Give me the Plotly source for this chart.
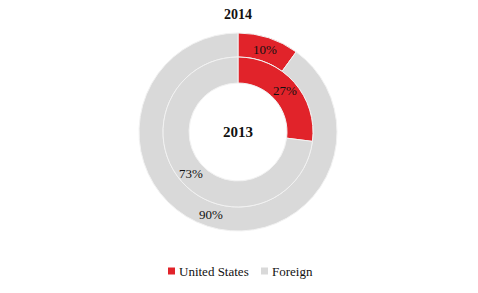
import math
import plotly.graph_objects as go

labels = ["United States", "Foreign"]
values_2014 = [10, 90]
values_2013 = [27, 73]
colors = ["#E1232A", "#D9D9D9"]

W, H = 478, 293
cx, cy = 238, 132
r_outer, r_mid, r_inner = 99, 75, 49

def dom(r):
    return dict(x=[(cx - r) / W, (cx + r) / W], y=[1 - (cy + r) / H, 1 - (cy - r) / H])

tfont = dict(family="Liberation Serif", size=13, color="#111111")

fig = go.Figure()
fig.add_trace(go.Pie(
    labels=labels, values=values_2014, name="2014",
    domain=dom(r_outer), hole=r_mid / r_outer,
    sort=False, direction="clockwise", rotation=0,
    marker=dict(colors=colors, line=dict(color="#F2F2F2", width=1)),
    textinfo="none", hoverinfo="label+percent", showlegend=False,
))
fig.add_trace(go.Pie(
    labels=labels, values=values_2013, name="2013",
    domain=dom(r_mid), hole=r_inner / r_mid,
    sort=False, direction="clockwise", rotation=0,
    marker=dict(colors=colors, line=dict(color="#F2F2F2", width=1)),
    textinfo="none", hoverinfo="label+percent", showlegend=False,
))

annotations = [
    dict(text="<b>2014</b>", x=cx / W, y=1 - 15 / H, xref="paper", yref="paper",
         xanchor="center", yanchor="middle",
         showarrow=False, font=dict(family="Liberation Serif", size=14, color="#111111")),
    dict(text="<b>2013</b>", x=cx / W, y=1 - cy / H, xref="paper", yref="paper",
         xanchor="center", yanchor="middle",
         showarrow=False, font=dict(family="Liberation Serif", size=15, color="#111111")),
]

# percentage labels placed at the mid-angle of each slice, mid-radius of each ring
for vals, r0, r1 in [(values_2014, r_mid, r_outer), (values_2013, r_inner, r_mid)]:
    total = sum(vals)
    cum = 0
    rm = (r0 + r1) / 2
    for v in vals:
        mid = (cum + v / 2) / total * 2 * math.pi
        cum += v
        px = cx + rm * math.sin(mid)
        py = cy - rm * math.cos(mid)
        annotations.append(dict(text=f"{round(100 * v / total)}%", x=px / W, y=1 - py / H,
                                xref="paper", yref="paper", xanchor="center", yanchor="middle",
                                showarrow=False, font=tfont))

# custom legend
shapes = []
leg_y = 271
leg_items = [(168, 177), (261, 270)]
for (sx, tx), lab, col in zip(leg_items, labels, colors):
    shapes.append(dict(type="rect", xref="paper", yref="paper",
                       x0=sx / W, x1=(sx + 7) / W, y0=1 - (leg_y + 3.5) / H, y1=1 - (leg_y - 3.5) / H,
                       fillcolor=col, line=dict(width=0)))
    annotations.append(dict(text=lab, x=tx / W, y=1 - leg_y / H, xref="paper", yref="paper",
                            xanchor="left", yanchor="middle", showarrow=False, font=tfont))

fig.update_layout(
    width=W, height=H,
    margin=dict(l=0, r=0, t=0, b=0),
    paper_bgcolor="white", plot_bgcolor="white",
    showlegend=False,
    annotations=annotations,
    shapes=shapes,
)

fig.write_html("out.html")
